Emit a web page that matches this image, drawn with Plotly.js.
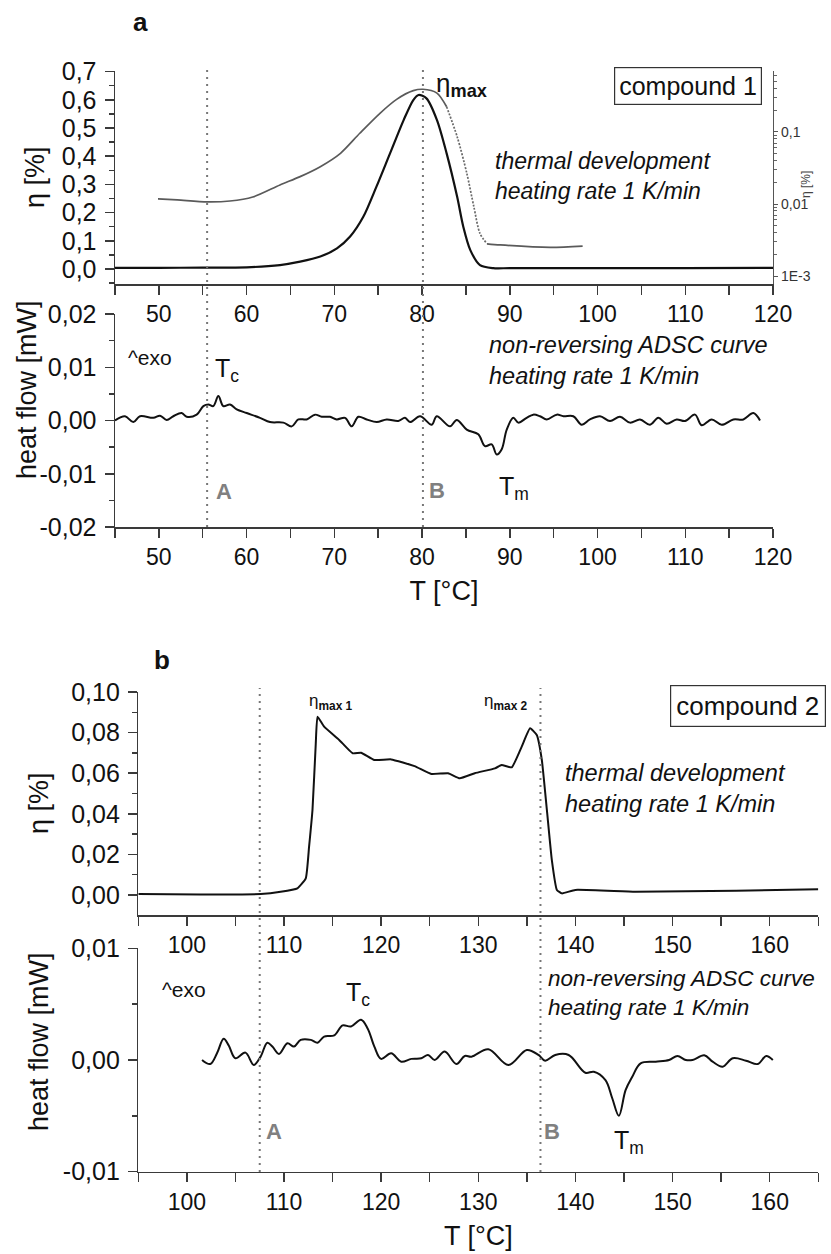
<!DOCTYPE html>
<html><head><meta charset="utf-8">
<script src="https://cdn.plot.ly/plotly-3.0.1.min.js"></script>
<style>html,body{margin:0;padding:0;background:#fff}#chart{width:831px;height:1254px}</style>
</head><body><div id="chart"></div>
<script>
// ---------- Panel a (compound 1) ----------
const etaA_T = [45, 50, 55, 60, 63.8, 66.1, 68.4, 70.3, 71.8, 73.3, 74.8, 76.35, 77.9, 79.0, 79.6, 80.5, 81.7, 82.8, 84.0, 84.7, 85.5, 86.6, 88.1, 90, 100, 110, 120];
const etaA   = [0.004, 0.004, 0.005, 0.006, 0.014, 0.026, 0.044, 0.073, 0.115, 0.185, 0.292, 0.41, 0.528, 0.599, 0.617, 0.605, 0.528, 0.41, 0.256, 0.15, 0.067, 0.014, 0.003, 0.003, 0.003, 0.003, 0.004];

const etaLogA_T = [49.9, 52.1, 55.5, 58.1, 60.7, 63.8, 66.1, 68.4, 70.7, 72.9, 75.2, 77.1, 79.0, 80.1, 81.7, 82.8, 84.0, 85.1, 85.9, 86.6, 87.4, 88.9, 94.6, 98.3];
const etaLogA   = [0.0118, 0.0114, 0.0107, 0.011, 0.0125, 0.0184, 0.024, 0.033, 0.0506, 0.096, 0.182, 0.284, 0.375, 0.392, 0.347, 0.224, 0.086, 0.0267, 0.0092, 0.0039, 0.0028, 0.0027, 0.0025, 0.0026];
// the falling part of the log curve (82.8 to 87.4 °C) is drawn dotted in the original
const logDottedFrom = 82.8, logDottedTo = 87.4;

const hfA_T = [45.0, 46.14, 47.09, 47.85, 49.37, 50.13, 50.89, 51.65, 52.60, 53.17, 54.31, 55.07, 55.64, 56.21, 56.78, 57.35, 58.11, 58.87, 60.01, 61.53, 62.67, 64.19, 65.14, 65.90, 66.85, 67.80, 68.56, 69.51, 70.27, 71.22, 71.98, 72.74, 73.69, 74.83, 75.97, 77.29, 78.05, 78.63, 79.77, 81.10, 81.67, 83.19, 83.95, 85.09, 86.41, 87.17, 87.94, 88.51, 89.08, 89.65, 90.40, 90.97, 91.92, 92.68, 93.44, 94.21, 95.35, 96.11, 97.24, 98.20, 99.14, 100.28, 101.42, 102.56, 103.70, 104.84, 105.98, 106.93, 107.88, 109.02, 109.97, 111.11, 111.87, 113.01, 114.15, 115.48, 116.62, 117.76, 118.52];
const hfA   = [0.0000, 0.0008, -0.0003, 0.0008, 0.0005, 0.0009, 0.0001, 0.0008, 0.0014, 0.0007, 0.0011, 0.0027, 0.0030, 0.0027, 0.0046, 0.0027, 0.0030, 0.0021, 0.0014, 0.0005, -0.0003, -0.0004, -0.0011, 0.0002, 0.0002, 0.0011, 0.0007, 0.0007, 0.0002, 0.0005, -0.0011, 0.0007, 0.0002, -0.0003, 0.0002, -0.0001, 0.0005, -0.0003, 0.0008, -0.0008, 0.0008, -0.0011, 0.0001, -0.0017, -0.0026, -0.0048, -0.0045, -0.0064, -0.0054, -0.0017, 0.0005, -0.0004, 0.0005, 0.0011, 0.0008, 0.0002, 0.0011, 0.0008, 0.0008, -0.0008, 0.0002, 0.0008, -0.0001, 0.0007, -0.0004, 0.0002, -0.0008, 0.0005, -0.0006, 0.0002, -0.0001, 0.0011, -0.0009, 0.0002, -0.0008, 0.0002, 0.0002, 0.0014, 0.0000];

const markersA = [55.5, 80.1];

// ---------- Panel b (compound 2) ----------
const etaB_T = [95.0, 101.4, 107.6, 109.65, 111.38, 112.24, 112.58, 112.93, 113.27, 113.45, 114.13, 115.68, 117.07, 117.93, 119.3, 121.03, 123.44, 125.17, 126.89, 128.09, 129.64, 131.71, 132.4, 133.44, 134.47, 135.33, 136.02, 136.54, 137.06, 137.57, 138.09, 138.61, 139.98, 146.19, 156.53, 165.0];
const etaB   = [0.0005, 0.0003, 0.0005, 0.0016, 0.0033, 0.0082, 0.0238, 0.0419, 0.0747, 0.0878, 0.0829, 0.0764, 0.0698, 0.0701, 0.0665, 0.0668, 0.0635, 0.0596, 0.06, 0.0575, 0.06, 0.0624, 0.064, 0.0629, 0.0731, 0.0821, 0.0788, 0.0665, 0.0419, 0.0172, 0.0025, 0.0008, 0.0025, 0.0016, 0.0021, 0.0028];

const hfB_T = [101.56, 102.41, 103.1, 103.79, 104.31, 105.0, 106.03, 106.89, 107.59, 108.28, 108.8, 109.48, 110.35, 111.03, 111.72, 112.76, 113.45, 114.13, 115.17, 116.03, 116.89, 117.93, 118.62, 119.3, 119.99, 121.03, 122.06, 123.1, 124.13, 124.82, 125.51, 126.54, 127.75, 128.61, 129.3, 131.03, 133.1, 134.99, 136.2, 136.88, 137.92, 139.3, 141.02, 141.89, 143.09, 143.78, 144.47, 145.16, 145.85, 146.71, 148.26, 149.64, 150.5, 151.36, 152.05, 153.26, 154.12, 155.15, 156.19, 157.56, 158.77, 159.63, 160.32];
const hfB   = [0, -0.00036, 0.0006, 0.0019, 0.0013, 0.00015, 0.00066, -0.00045, 0.0003, 0.00155, 0.0012, 0.00054, 0.0015, 0.0012, 0.0018, 0.0018, 0.00155, 0.0021, 0.0022, 0.0031, 0.003, 0.0036, 0.0028, 0.0012, 0.0001, 0.0006, -0.00015, 0.0001, 0.00015, 0.00045, 0, 0.00075, -0.00036, 0.00036, 0.0003, 0.00096, -0.00045, 0.0009, 0.00045, -0.00006, 0.00045, 0.00045, -0.00114, -0.00105, -0.0018, -0.0034, -0.005, -0.0027, -0.0015, -0.0003, -0.00015, 0, 0.00036, 0, 0, 0.00042, -0.00015, -0.0006, 0.00015, -0.00006, -0.00036, 0.00036, 0];

const markersB = [107.5, 136.4];

// ---------- tick labels ----------
const yTicksA1 = [0, 0.1, 0.2, 0.3, 0.4, 0.5, 0.6, 0.7];
const yLabelsA1 = ['0,0', '0,1', '0,2', '0,3', '0,4', '0,5', '0,6', '0,7'];
const yTicksLog = [0.001, 0.01, 0.1];
const yLabelsLog = ['1E-3', '0,01', '0,1'];
const yMinorLog = [0.002, 0.003, 0.004, 0.005, 0.006, 0.007, 0.008, 0.009, 0.02, 0.03, 0.04, 0.05, 0.06, 0.07, 0.08, 0.09, 0.2, 0.3, 0.4, 0.5, 0.6];
const yTicksA2 = [-0.02, -0.01, 0, 0.01, 0.02];
const yLabelsA2 = ['-0,02', '-0,01', '0,00', '0,01', '0,02'];
const yTicksB1 = [0, 0.02, 0.04, 0.06, 0.08, 0.10];
const yLabelsB1 = ['0,00', '0,02', '0,04', '0,06', '0,08', '0,10'];
const yTicksB2 = [-0.01, 0, 0.01];
const yLabelsB2 = ['-0,01', '0,00', '0,01'];

const FONT = 'Liberation Sans, Arial, Helvetica, sans-serif';
const AX = '#3a3a3a';
const W = 831, H = 1254;
const px = v => v / W;
const py = v => 1 - v / H;

function xAx(domain, range, anchor, title) {
  const a = {
    domain, range, anchor, showgrid: false, zeroline: false, showline: true,
    linecolor: AX, linewidth: 1.5, ticks: 'outside', ticklen: 9, tickwidth: 1.5, tickcolor: AX,
    tickmode: 'linear', tick0: 0, dtick: 10,
    minor: {tickmode: 'linear', tick0: 5, dtick: 5, ticks: 'outside', ticklen: 9, tickwidth: 1.5, tickcolor: AX},
    tickfont: {family: FONT, size: 23, color: '#111'}, fixedrange: true
  };
  if (title) a.title = {text: title, font: {family: FONT, size: 27, color: '#111'}, standoff: 12};
  return a;
}
function yAx(domain, range, anchor, tv, tt, minorD) {
  return {
    domain, range, anchor, showgrid: false, zeroline: false, showline: true,
    linecolor: AX, linewidth: 1.5, ticks: 'outside', ticklen: 9, tickwidth: 1.5, tickcolor: AX,
    tickmode: 'array', tickvals: tv, ticktext: tt, ticklabelstandoff: 3,
    minor: {tickmode: 'linear', tick0: 0, dtick: minorD, ticks: 'outside', ticklen: 5, tickwidth: 1.5, tickcolor: AX},
    tickfont: {family: FONT, size: 25, color: '#111'}, fixedrange: true
  };
}

// split the log curve into solid / dotted / solid pieces (sharing end points)
function seg(xs, ys, lo, hi) {
  const ix = xs.map((v, i) => i).filter(i => xs[i] >= lo && xs[i] <= hi);
  return {x: ix.map(i => xs[i]), y: ix.map(i => ys[i])};
}
const gA = seg(etaLogA_T, etaLogA, -Infinity, logDottedFrom);
const gB = seg(etaLogA_T, etaLogA, logDottedFrom, logDottedTo);
const gC = seg(etaLogA_T, etaLogA, logDottedTo, Infinity);

const line = {color: '#111', width: 2};
const grey = {color: '#5a5a5a', width: 1.7, shape: 'spline', smoothing: 0.8};
const traces = [
  {x: etaA_T, y: etaA, xaxis: 'x', yaxis: 'y', mode: 'lines', line: {...line, width: 2.2, shape: 'spline', smoothing: 0.8}},
  {x: gA.x, y: gA.y, xaxis: 'x', yaxis: 'y2', mode: 'lines', line: grey},
  {x: gB.x, y: gB.y, xaxis: 'x', yaxis: 'y2', mode: 'lines', line: {...grey, color: '#6a6a6a', dash: '2px,1.5px'}},
  {x: gC.x, y: gC.y, xaxis: 'x', yaxis: 'y2', mode: 'lines', line: grey},
  {x: hfA_T, y: hfA, xaxis: 'x2', yaxis: 'y3', mode: 'lines', line: {...line, shape: 'spline', smoothing: 1}},
  {x: etaB_T, y: etaB, xaxis: 'x3', yaxis: 'y4', mode: 'lines', line: {...line, shape: 'spline', smoothing: 0.4}},
  {x: hfB_T, y: hfB, xaxis: 'x4', yaxis: 'y5', mode: 'lines', line: {...line, shape: 'spline', smoothing: 1}}
];

const domA = [px(115), px(773)];
const domB = [px(138.3), px(818.3)];

const layout = {
  width: W, height: H, margin: {l: 0, r: 0, t: 0, b: 0},
  paper_bgcolor: '#fff', plot_bgcolor: 'rgba(0,0,0,0)', showlegend: false, hovermode: false,
  font: {family: FONT, color: '#111'},
  xaxis: xAx(domA, [45, 120], 'y'),
  yaxis: yAx([py(284), py(71)], [-0.0532, 0.702], 'x', yTicksA1, yLabelsA1, 0.05),
  yaxis2: {
    overlaying: 'y', side: 'right', anchor: 'x', type: 'log', range: [-3.111, -0.153],
    showgrid: false, zeroline: false, showline: true, linecolor: '#555', linewidth: 1.2,
    ticks: 'outside', ticklen: 4, tickwidth: 1, tickcolor: '#555',
    tickmode: 'array', tickvals: yTicksLog, ticktext: yLabelsLog,
    minor: {tickmode: 'array', tickvals: yMinorLog, ticks: 'outside', ticklen: 2.5, tickwidth: 1, tickcolor: '#666'},
    tickfont: {family: FONT, size: 14, color: '#333'}, fixedrange: true
  },
  xaxis2: xAx(domA, [45, 120], 'y3', 'T [°C]'),
  yaxis3: yAx([py(527), py(314)], [-0.02, 0.02], 'x2', yTicksA2, yLabelsA2, 0.005),
  xaxis3: xAx(domB, [95, 165], 'y4'),
  yaxis4: yAx([py(915), py(692)], [-0.00985, 0.10], 'x3', yTicksB1, yLabelsB1, 0.01),
  xaxis4: xAx(domB, [95, 165], 'y5', 'T [°C]'),
  yaxis5: yAx([py(1171.7), py(948.3)], [-0.01, 0.01], 'x4', yTicksB2, yLabelsB2, 0.005),
  shapes: [],
  annotations: []
};

const dotted = {color: '#777', width: 2, dash: '2px,5px'};
markersA.forEach(m => layout.shapes.push({type: 'line', xref: 'x', yref: 'paper', x0: m, x1: m, y0: py(527), y1: py(69), line: dotted}));
markersB.forEach(m => layout.shapes.push({type: 'line', xref: 'x3', yref: 'paper', x0: m, x1: m, y0: py(1172), y1: py(688), line: dotted}));

function ann(text, x, y, o = {}) {
  layout.annotations.push(Object.assign({
    text, x: px(x), y: py(y), xref: 'paper', yref: 'paper', showarrow: false,
    xanchor: 'center', yanchor: 'middle',
    font: {family: FONT, size: o.size || 23, color: o.color || '#111'}
  }, o.extra || {}));
}

// panel a
ann('<b>a</b>', 140, 22, {size: 26});
ann('η<sub><b>max</b></sub>', 461, 84, {size: 26});
ann('compound 1', 687.5, 86.5, {size: 25, extra: {bordercolor: '#333', borderwidth: 1.2, borderpad: 4}});
ann('<i>thermal development<br>heating rate 1 K/min</i>', 493, 176, {size: 23, extra: {xanchor: 'left', align: 'left'}});
ann('η [%]', 35, 177, {size: 27, extra: {textangle: -90}});
ann('η [%]', 806, 185, {size: 12, color: '#444', extra: {textangle: -90}});
ann('heat flow [mW]', 27, 390, {size: 27, extra: {textangle: -90}});
ann('^exo', 149.5, 357, {size: 21});
ann('T<sub>c</sub>', 213, 370, {size: 25, extra: {xanchor: 'left'}});
ann('<b>A</b>', 223.5, 491, {size: 22, color: '#808080'});
ann('<b>B</b>', 436.5, 490, {size: 22, color: '#808080'});
ann('T<sub>m</sub>', 497, 488, {size: 25, extra: {xanchor: 'left'}});
ann('<i>non-reversing ADSC curve<br>heating rate 1 K/min</i>', 487, 361, {size: 23.5, extra: {xanchor: 'left', align: 'left'}});

// panel b
ann('<b>b</b>', 162, 660, {size: 26});
ann('η<sub><b>max 1</b></sub>', 331, 702, {size: 17});
ann('η<sub><b>max 2</b></sub>', 506, 702, {size: 17});
ann('compound 2', 747.5, 706, {size: 26, extra: {bordercolor: '#333', borderwidth: 1.2, borderpad: 5}});
ann('<i>thermal development<br>heating rate 1 K/min</i>', 563, 788, {size: 23.5, extra: {xanchor: 'left', align: 'left'}});
ann('η [%]', 39, 803, {size: 27, extra: {textangle: -90}});
ann('heat flow [mW]', 39, 1042, {size: 27, extra: {textangle: -90}});
ann('^exo', 184, 989, {size: 21});
ann('T<sub>c</sub>', 344, 994, {size: 25, extra: {xanchor: 'left'}});
ann('<b>A</b>', 273.5, 1131, {size: 22, color: '#808080'});
ann('<b>B</b>', 551.5, 1131, {size: 22, color: '#808080'});
ann('T<sub>m</sub>', 612, 1142, {size: 25, extra: {xanchor: 'left'}});
ann('<i>non-reversing ADSC curve<br>heating rate 1 K/min</i>', 546, 993, {size: 22.5, extra: {xanchor: 'left', align: 'left'}});

Plotly.newPlot('chart', traces, layout, {displayModeBar: false, staticPlot: true});
</script>
</body></html>
